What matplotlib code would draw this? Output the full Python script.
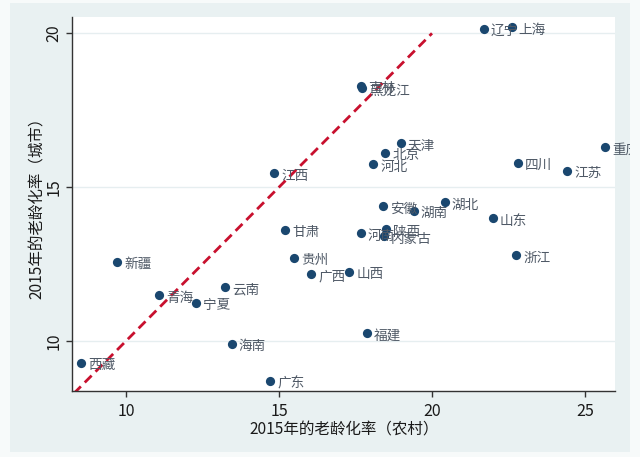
import matplotlib
matplotlib.use("Agg")
import matplotlib.pyplot as plt
from matplotlib.patches import Rectangle
from matplotlib.transforms import Bbox, TransformedBbox

plt.rcParams['font.family'] = ['Noto Sans CJK SC', 'DejaVu Sans']

provinces = ["辽宁", "上海", "吉林", "黑龙江", "天津", "北京", "河北", "重庆", "四川", "江苏",
             "江西", "安徽", "湖南", "湖北", "山东", "甘肃", "陕西", "河南", "内蒙古", "浙江",
             "新疆", "贵州", "广西", "山西", "云南", "青海", "宁夏", "福建", "海南", "西藏", "广东"]
rural = [21.69, 22.60, 17.67, 17.71, 18.98, 18.47, 18.08, 25.65, 22.82, 24.42,
         14.85, 18.39, 19.41, 20.42, 21.98, 15.20, 18.50, 17.67, 18.43, 22.75,
         9.72, 15.50, 16.06, 17.30, 13.25, 11.08, 12.28, 17.88, 13.45, 8.54, 14.72]
urban = [20.15, 20.19, 18.29, 18.21, 16.43, 16.12, 15.74, 16.31, 15.79, 15.53,
         15.45, 14.39, 14.23, 14.52, 13.99, 13.61, 13.63, 13.50, 13.41, 12.79,
         12.58, 12.71, 12.18, 12.25, 11.75, 11.48, 11.24, 10.25, 9.91, 9.29, 8.69]
xticks = [10, 15, 20, 25]
yticks = [10, 15, 20]
ref_line = [8.3, 20]

bg = '#E9F1F2'
fig = plt.figure(figsize=(6.4, 4.57), dpi=100, facecolor='#F7FAFA')
fig.patches.append(Rectangle((10/640, 1-452/457), 620/640, 449/457,
                             transform=fig.transFigure, facecolor=bg,
                             edgecolor='none', zorder=-5))
ax = fig.add_axes([72.3/640, 1-391/457, (615-72.3)/640, (391-16.7)/457])
ax.set_zorder(1)
ax.set_facecolor('white')
ax.set_xlim(8.245, 25.98)
ax.set_ylim(8.375, 20.54)

for yt in yticks:
    ax.axhline(yt, color='#E6EEF0', lw=1.0, zorder=1)

ax.plot(ref_line, ref_line, color='#C8102E', lw=2.0, ls=(0, (3.5, 2.0)), zorder=2)
ax.scatter(rural, urban, s=44, color='#1A476F', zorder=3, linewidths=0)

clip = TransformedBbox(Bbox([[10/640, 1-452/457], [630/640, 1-3/457]]), fig.transFigure)
for name, xv, yv in zip(provinces, rural, urban):
    t = ax.annotate(name, (xv, yv), xytext=(5, -1.8), textcoords='offset points',
                    ha='left', va='center', fontsize=9.8, color='#4F5966',
                    annotation_clip=False, zorder=4)
    t.set_clip_on(True)
    t.set_clip_box(clip)

ax.set_xticks(xticks)
ax.set_yticks(yticks)
for s in ['top', 'right']:
    ax.spines[s].set_visible(False)
for s in ['left', 'bottom']:
    ax.spines[s].set_color('#333333')
    ax.spines[s].set_linewidth(1.0)
ax.tick_params(axis='both', direction='out', length=4, width=1, color='#333333',
               labelsize=11.5, labelcolor='#1a1a1a')
ax.tick_params(axis='x', pad=5)
ax.tick_params(axis='y', pad=3)
for lab in ax.get_yticklabels():
    lab.set_rotation(90)
    lab.set_va('center')
ax.set_xlabel('2015年的老龄化率（农村）', fontsize=11.2, color='#1a1a1a')
ax.set_ylabel('2015年的老龄化率（城市）', fontsize=11.2, color='#1a1a1a')
ax.xaxis.label.set_va('center')
ax.yaxis.label.set_va('center')
ax.xaxis.set_label_coords(0.5, (391 - 430) / 374.3)
ax.yaxis.set_label_coords((37 - 72.3) / 542.7, 0.5)

fig.savefig('out.png', dpi=100, facecolor=fig.get_facecolor())
